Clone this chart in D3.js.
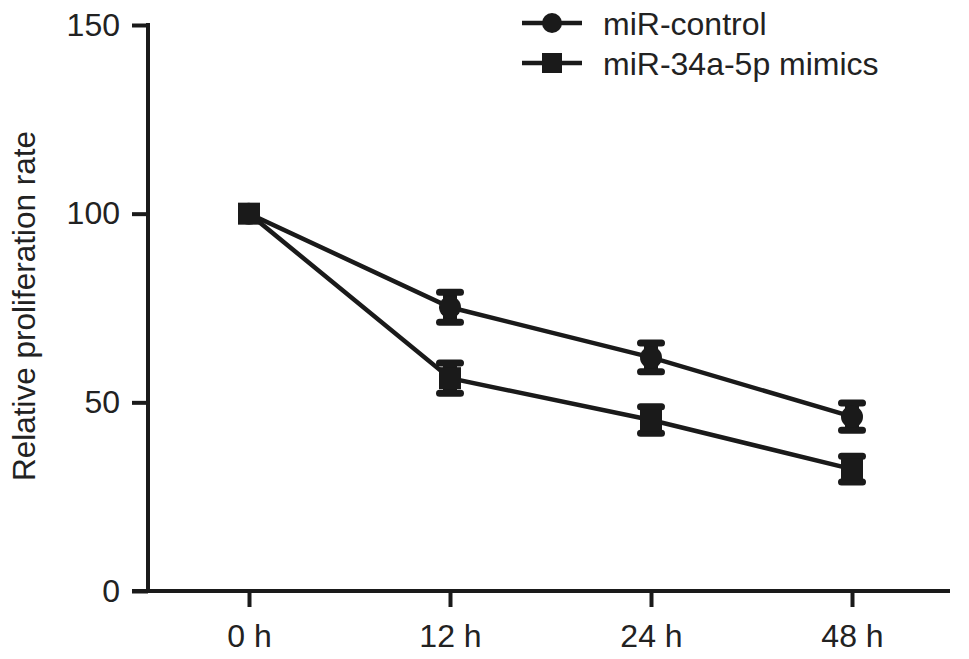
<!DOCTYPE html>
<html><head><meta charset="utf-8">
<script src="https://cdn.jsdelivr.net/npm/d3@7"></script>
<style>body{margin:0;background:#fff}svg{display:block}</style>
</head><body>
<svg id="c" width="969" height="659"></svg>
<script>
const categories = ["0 h", "12 h", "24 h", "48 h"];
const controlValues = [100, 75.2, 61.9, 46.2];
const controlErrors = [0, 4.0, 3.8, 3.6];
const mimicValues = [100, 56.4, 45.3, 32.3];
const mimicErrors = [0, 4.0, 3.5, 3.4];
const yTicks = [0, 50, 100, 150];
const seriesNames = ["miR-control", "miR-34a-5p mimics"];
const yTitle = "Relative proliferation rate";

const svg = d3.select("#c");
const ink = "#1a1a1a";
const textInk = "#222";
const font = "'Liberation Sans', Arial, sans-serif";

const x = d3.scalePoint().domain(categories).range([249, 852]);
const y = d3.scaleLinear().domain([0, 150]).range([591, 25]);

// Y axis
const yAxis = svg.append("g").attr("transform", "translate(148,0)")
  .call(d3.axisLeft(y).tickValues(yTicks).tickSize(16).tickPadding(12));
yAxis.select(".domain").attr("stroke", ink).attr("stroke-width", 4).attr("d", "M0,23V591");
yAxis.selectAll(".tick line").attr("stroke", ink).attr("stroke-width", 4);
yAxis.selectAll(".tick text").attr("font-family", font).attr("font-size", 32).attr("fill", textInk);

// X axis
const xAxis = svg.append("g").attr("transform", "translate(0,591)")
  .call(d3.axisBottom(x).tickSize(16).tickPadding(17));
xAxis.select(".domain").attr("stroke", ink).attr("stroke-width", 4).attr("d", "M132,0H950");
xAxis.selectAll(".tick line").attr("stroke", ink).attr("stroke-width", 4);
xAxis.selectAll(".tick text").attr("font-family", font).attr("font-size", 32).attr("fill", textInk);

// Y title
svg.append("text").attr("transform", "translate(35,306) rotate(-90)")
  .attr("text-anchor", "middle").attr("font-family", font).attr("font-size", 31.5)
  .attr("fill", textInk).text(yTitle);

const series = [
  {name: seriesNames[0], values: controlValues, errors: controlErrors, shape: "circle"},
  {name: seriesNames[1], values: mimicValues, errors: mimicErrors, shape: "square"}
];

const line = d3.line().x((d, i) => x(categories[i])).y(d => y(d));

function marker(g, shape, cx, cy, r) {
  if (shape === "circle") {
    g.append("circle").attr("cx", cx).attr("cy", cy).attr("r", r).attr("fill", ink);
  } else {
    g.append("rect").attr("x", cx - r).attr("y", cy - r).attr("width", 2 * r).attr("height", 2 * r).attr("fill", ink);
  }
}

series.forEach(s => {
  const g = svg.append("g");
  g.append("path").datum(s.values).attr("d", line).attr("fill", "none")
    .attr("stroke", ink).attr("stroke-width", 4.5);
  s.values.forEach((v, i) => {
    const cx = x(categories[i]);
    const e = s.errors[i];
    if (e > 0) {
      g.append("line").attr("x1", cx).attr("x2", cx).attr("y1", y(v + e)).attr("y2", y(v - e))
        .attr("stroke", ink).attr("stroke-width", 14);
      [v + e, v - e].forEach(b => {
        g.append("line").attr("x1", cx - 10.5).attr("x2", cx + 10.5).attr("y1", y(b)).attr("y2", y(b))
          .attr("stroke", ink).attr("stroke-width", 7).attr("stroke-linecap", "round");
      });
    }
    marker(g, s.shape, cx, y(v), 11);
  });
});

// Legend
const legendY = [23, 63];
series.forEach((s, i) => {
  const g = svg.append("g");
  g.append("line").attr("x1", 522).attr("x2", 582).attr("y1", legendY[i]).attr("y2", legendY[i])
    .attr("stroke", ink).attr("stroke-width", 4.5);
  marker(g, s.shape, 552, legendY[i], 10);
  g.append("text").attr("x", 603).attr("y", legendY[i] + 12).attr("font-family", font)
    .attr("font-size", 32).attr("fill", textInk).text(s.name);
});
</script>
</body></html>
